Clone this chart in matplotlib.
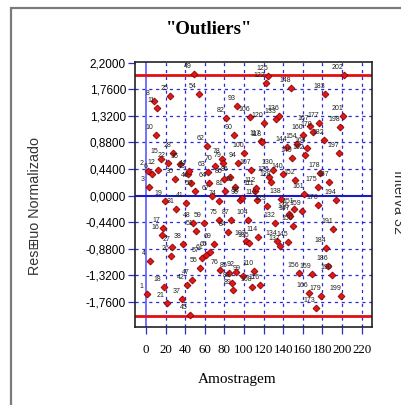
import matplotlib
matplotlib.use("Agg")
import matplotlib.pyplot as plt
from matplotlib.patches import Rectangle

# ---- data (sample index, normalized residual) ----
amostra = [1, 2, 3, 4, 6, 8, 10, 11, 12, 15, 16, 17, 18, 19, 21, 22, 25, 26, 27, 28,
           30, 31, 35, 37, 38, 41, 42, 43, 44, 45, 46, 47, 48, 49, 50, 51, 54, 55, 57, 59,
           61, 62, 63, 64, 65, 67, 69, 70, 74, 75, 76, 78, 79, 80, 81, 82, 84, 85, 86, 87,
           88, 89, 90, 91, 92, 93, 94, 96, 98, 99, 100, 102, 104, 105, 106, 107, 108, 110, 111, 112,
           113, 114, 116, 117, 118, 120, 122, 123, 125, 126, 128, 130, 132, 133, 134, 136, 137, 138, 140, 144,
           145, 146, 147, 148, 149, 150, 151, 152, 154, 156, 159, 160, 161, 162, 164, 166, 167, 169, 170, 173,
           175, 176, 177, 178, 179, 182, 183, 184, 186, 187, 190, 191, 194, 197, 198, 199, 201, 202]
residuo = [-1.64, 0.41, 0.15, -1.09, 0.35, 1.56, 1.00, 1.45, 0.42, 0.60, -0.65, -0.54, -1.52, -0.09, -1.78, 0.54, 1.65, -1.01, -0.86, 0.70,
           0.27, -0.23, 0.52, -1.72, -0.81, -0.12, -1.48, 0.35, 0.40, -1.98, 0.21, -1.40, -0.45, 2.02, 0.07, -0.59, 1.69, -1.20, -1.03, -0.45,
           -0.98, 0.82, 0.39, 0.20, -0.93, -0.01, -0.81, 0.49, -0.09, -0.40, -1.23, 0.60, 0.54, 0.27, 0.07, 1.29, -0.61, -1.28, 0.30, -0.40,
           -1.45, -1.56, 1.01, 0.14, -1.26, 1.48, 0.54, -0.07, -0.04, -1.34, 0.71, -0.76, -0.40, -0.78, 1.31, 0.43, -1.51, -1.25, 0.07, 0.12,
           -0.07, -0.68, -1.48, 0.91, 0.89, 1.20, 1.87, -0.17, 1.98, 0.30, 0.23, 0.42, -0.45, 1.27, -0.75, 1.32, -0.84, -0.05, 0.36, 0.80,
           -0.77, -0.30, -0.34, 1.78, 0.63, -0.51, -0.23, 0.25, 0.85, -1.28, -0.25, 1.01, 0.02, 0.68, 0.79, -1.62, 1.15, -1.30, 1.05, -1.87,
           0.15, -0.15, 1.20, 0.38, -1.67, 0.92, 1.68, -0.87, -1.17, 0.22, -1.32, -0.56, -0.07, 0.71, 1.13, -1.67, 1.32, 2.00]

yticks = [2.2, 1.76, 1.32, 0.88, 0.44, 0.0, -0.44, -0.88, -1.32, -1.76]
ytick_labels = ["2,2000", "1,7600", "1,3200", "0,8800", "0,4400", "0,0000",
                "-0,4400", "-0,8800", "-1,3200", "-1,7600"]
xticks = [0, 20, 40, 60, 80, 100, 120, 140, 160, 180, 200, 220]
limites = [2.0, -2.0]

W, H = 401, 405
fig = plt.figure(figsize=(W / 100, H / 100), dpi=100)
fig.patch.set_facecolor("white")

# outer grey frame
fig.patches.append(Rectangle((11 / W, -0.1), 1.2, (H - 8) / H + 0.1, transform=fig.transFigure,
                             fill=False, edgecolor="#7a7a7a", lw=1.6))

ax = fig.add_axes([135 / W, 1 - 327 / H, (372 - 135) / W, (327 - 62) / H])
ax.set_xlim(-11.2, 230.6)
ax.set_ylim(-2.18, 2.215)

blue = "#2b2bd6"
# dashed grid
for yv in yticks:
    if yv not in (0.0, 2.2):
        ax.axhline(yv, color=blue, lw=0.9, ls=(0, (2.5, 3)), zorder=1)
for xv in xticks:
    if xv != 0:
        ax.axvline(xv, color=blue, lw=0.9, ls=(0, (2.5, 3)), zorder=1)
ax.axvline(0, color="#5a5aff", lw=1.2, zorder=1)
ax.axhline(0, color="#1a1acc", lw=1.5, zorder=1)
for lv in limites:
    ax.axhline(lv, color="#e41010", lw=2.0, zorder=2)

ax.plot(amostra, residuo, ls="none", marker="D", ms=3.5, mfc="#e01818", mec="#8a0000",
        mew=0.6, zorder=4)
for xv, yv in zip(amostra, residuo):
    ax.annotate(str(xv), (xv, yv), xytext=(-6, 4), textcoords="offset pixels",
                ha="center", va="bottom", fontsize=5, family="Liberation Sans",
                color="#222222", zorder=5)

ax.set_yticks(yticks)
ax.set_yticklabels(ytick_labels, family="Liberation Sans", fontsize=8.5)
ax.set_xticks(xticks)
ax.set_xticklabels([str(t) for t in xticks], family="Liberation Serif", fontsize=9.3)
ax.tick_params(axis="y", length=5, width=0.9, color=blue, pad=1.5)
ax.tick_params(axis="x", length=5, width=0.9, color=blue, pad=7)
for s in ax.spines.values():
    s.set_color("#222222")
    s.set_linewidth(1.2)

fig.text(209 / W, 1 - 29 / H, '"Outliers"', ha="center", va="center",
         family="Liberation Serif", fontweight="bold", fontsize=13.5)
fig.text(237 / W, 1 - 380 / H, "Amostragem", ha="center", va="center",
         family="Liberation Serif", fontsize=11)
fig.text(35 / W, 1 - 206 / H, "Res\u229euo Normalizado", ha="center", va="center",
         rotation=90, family=["Liberation Sans", "DejaVu Sans"], fontsize=10.3, color="#333333")
fig.text(398 / W, 1 - 202 / H, "Interva 32", ha="center", va="center",
         rotation=270, family="Liberation Sans", fontsize=10.3, color="#333333")

fig.savefig("out.png", dpi=100)
